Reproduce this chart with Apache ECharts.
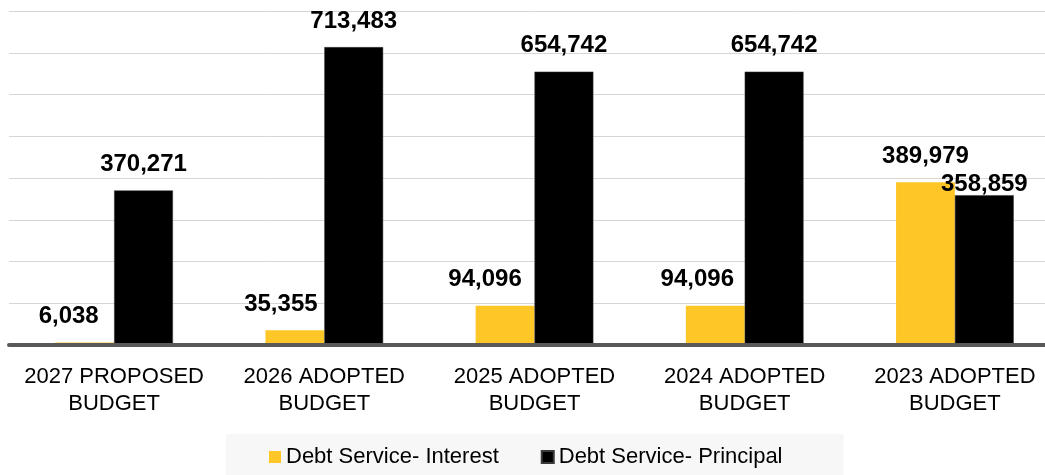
<!DOCTYPE html>
<html>
<head>
<meta charset="utf-8">
<style>
  html, body { margin: 0; padding: 0; background: #ffffff; overflow: hidden; }
  /* canvas is a little wider than the window so the last category runs off the right edge */
  #chart { width: 1060px; height: 475px; }
</style>
<script src="https://cdn.jsdelivr.net/npm/echarts@6/dist/echarts.min.js"></script>
</head>
<body>
<div id="chart"></div>
<script>
// Debt service budget by year
const categories = [
  '2027 PROPOSED\nBUDGET',
  '2026 ADOPTED\nBUDGET',
  '2025 ADOPTED\nBUDGET',
  '2024 ADOPTED\nBUDGET',
  '2023 ADOPTED\nBUDGET'
];
const seriesNames = ['Debt Service- Interest', 'Debt Service- Principal'];
const interest = [6038, 35355, 94096, 94096, 389979];
const principal = [370271, 713483, 654742, 654742, 358859];

// value-label nudges so the labels sit clear of the neighbouring bars
const interestLabelShift = [[-16, 0], [-14, 0], [-20, 0], [-18, 0], [0, 0]];
const principalLabelShift = [[0, 0], [0, 0], [0, 0], [0, 0], [0, 15]];

const FONT = '"Liberation Sans", Arial, sans-serif';
const fmt = v => v.toLocaleString('en-US');

function withLabels(values, shifts) {
  return values.map((v, i) => ({
    value: v,
    label: { offset: shifts[i] }
  }));
}

const valueLabel = {
  show: true,
  position: 'top',
  distance: 14,
  color: '#000000',
  fontFamily: FONT,
  fontWeight: 'bold',
  fontSize: 24,
  formatter: p => fmt(p.value)
};

const chart = echarts.init(document.getElementById('chart'), null, { renderer: 'canvas' });
chart.setOption({
  animation: false,
  backgroundColor: '#ffffff',
  grid: { left: 9, top: 11, right: 0, bottom: 130, containLabel: false },
  legend: {
    data: seriesNames,
    left: 226,
    top: 434,
    padding: [12, 61, 14, 43],
    backgroundColor: '#f7f7f7',
    itemWidth: 12,
    itemHeight: 12,
    itemGap: 42,
    icon: 'rect',
    textStyle: { fontFamily: FONT, fontSize: 22, color: '#000000' }
  },
  xAxis: {
    type: 'category',
    data: categories,
    z: 5,
    axisTick: { show: false },
    axisLine: { show: true, lineStyle: { color: '#595959', width: 4 } },
    axisLabel: {
      margin: 18,
      fontFamily: FONT,
      fontSize: 22,
      lineHeight: 27,
      color: '#000000',
      interval: 0
    }
  },
  yAxis: {
    type: 'value',
    min: 0,
    max: 800000,
    interval: 100000,
    axisLabel: { show: false },
    axisLine: { show: false },
    axisTick: { show: false },
    splitLine: { show: true, lineStyle: { color: '#d6d6d6', width: 1 } }
  },
  series: [
    {
      name: seriesNames[0],
      type: 'bar',
      data: withLabels(interest, interestLabelShift),
      barGap: '0%',
      barCategoryGap: '44%',
      itemStyle: { color: '#FFC627' },
      label: valueLabel
    },
    {
      name: seriesNames[1],
      type: 'bar',
      data: withLabels(principal, principalLabelShift),
      barGap: '0%',
      barCategoryGap: '44%',
      itemStyle: { color: '#000000', borderColor: '#3a3a3a', borderWidth: 0.5 },
      label: valueLabel
    }
  ]
});
</script>
</body>
</html>
